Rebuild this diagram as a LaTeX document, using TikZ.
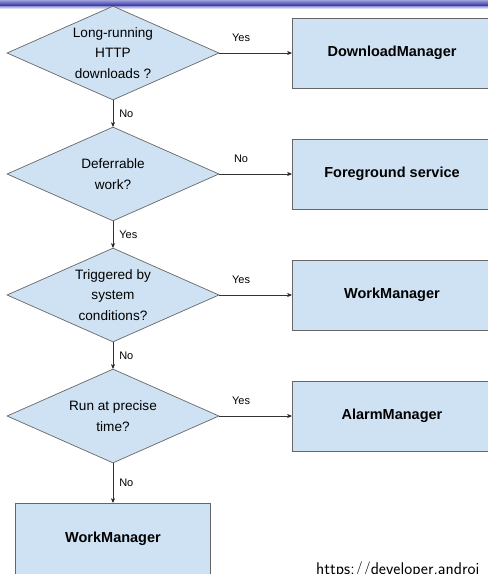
\documentclass[tikz,border=0pt]{standalone}
\usepackage{fontspec}
\setmainfont{Liberation Sans}
\usetikzlibrary{shapes.geometric, positioning, arrows}

\definecolor{boxblue}{HTML}{CFE2F3}
\definecolor{edgegray}{HTML}{666666}
\definecolor{barblue}{HTML}{2828A8}

\begin{document}
\begin{tikzpicture}[x=1pt, y=1pt, node distance=121pt, on grid, auto, >=stealth',
    decision/.style={diamond, draw=edgegray, fill=boxblue, line width=0.7pt, aspect=2.25,
        minimum width=212pt, minimum height=94pt, inner sep=0pt, align=center,
        font=\fontsize{13.6}{20.5}\selectfont},
    result/.style={rectangle, draw=edgegray, fill=boxblue, line width=0.7pt,
        minimum width=200pt, minimum height=70pt, font=\fontsize{14.5}{17}\selectfont\bfseries},
    answer/.style={font=\fontsize{11}{13}\selectfont, inner sep=3pt},
    across/.style={answer, pos=0.3, yshift=8pt},
    down/.style={answer, xshift=3pt}]
    \useasboundingbox (0,0) rectangle (488,-574);
    \clip (0,0) rectangle (488,-574);
    \shade[top color=barblue!45, bottom color=barblue] (0,0) rectangle (488,-6);
    \shade[top color=barblue!50, bottom color=white] (0,-6) rectangle (488,-9);

    \node[decision] (q_download) at (113,-53) {Long-running\\HTTP\\downloads ?};
    \node[decision] (q_defer) [below= of q_download] {Deferrable\\work?};
    \node[decision] (q_trigger) [below= of q_defer] {Triggered by\\system\\conditions?};
    \node[decision] (q_precise) [below= of q_trigger] {Run at precise\\time?};

    \node[result] (r_download) [right=279pt of q_download] {DownloadManager};
    \node[result] (r_foreground) [right=279pt of q_defer] {Foreground service};
    \node[result] (r_trigger) [right=279pt of q_trigger] {WorkManager};
    \node[result] (r_alarm) [right=279pt of q_precise] {AlarmManager};
    \node[result, minimum width=195pt, minimum height=72pt] (r_work) [below=123pt of q_precise] {WorkManager};

    \node[font=\sffamily\fontsize{17}{19}\selectfont, anchor=base west, inner sep=0pt] (source) at (316,-574.5) {https://developer.androi};

    \path[->, draw=black!80, line width=0.6pt]
        (q_download) edge node[across] {Yes} (r_download)
                     edge node[down] {No} (q_defer)
        (q_defer)    edge node[across] {No} (r_foreground)
                     edge node[down] {Yes} (q_trigger)
        (q_trigger)  edge node[across] {Yes} (r_trigger)
                     edge node[down] {No} (q_precise)
        (q_precise)  edge node[across] {Yes} (r_alarm)
                     edge node[down] {No} (r_work);
\end{tikzpicture}
\end{document}
